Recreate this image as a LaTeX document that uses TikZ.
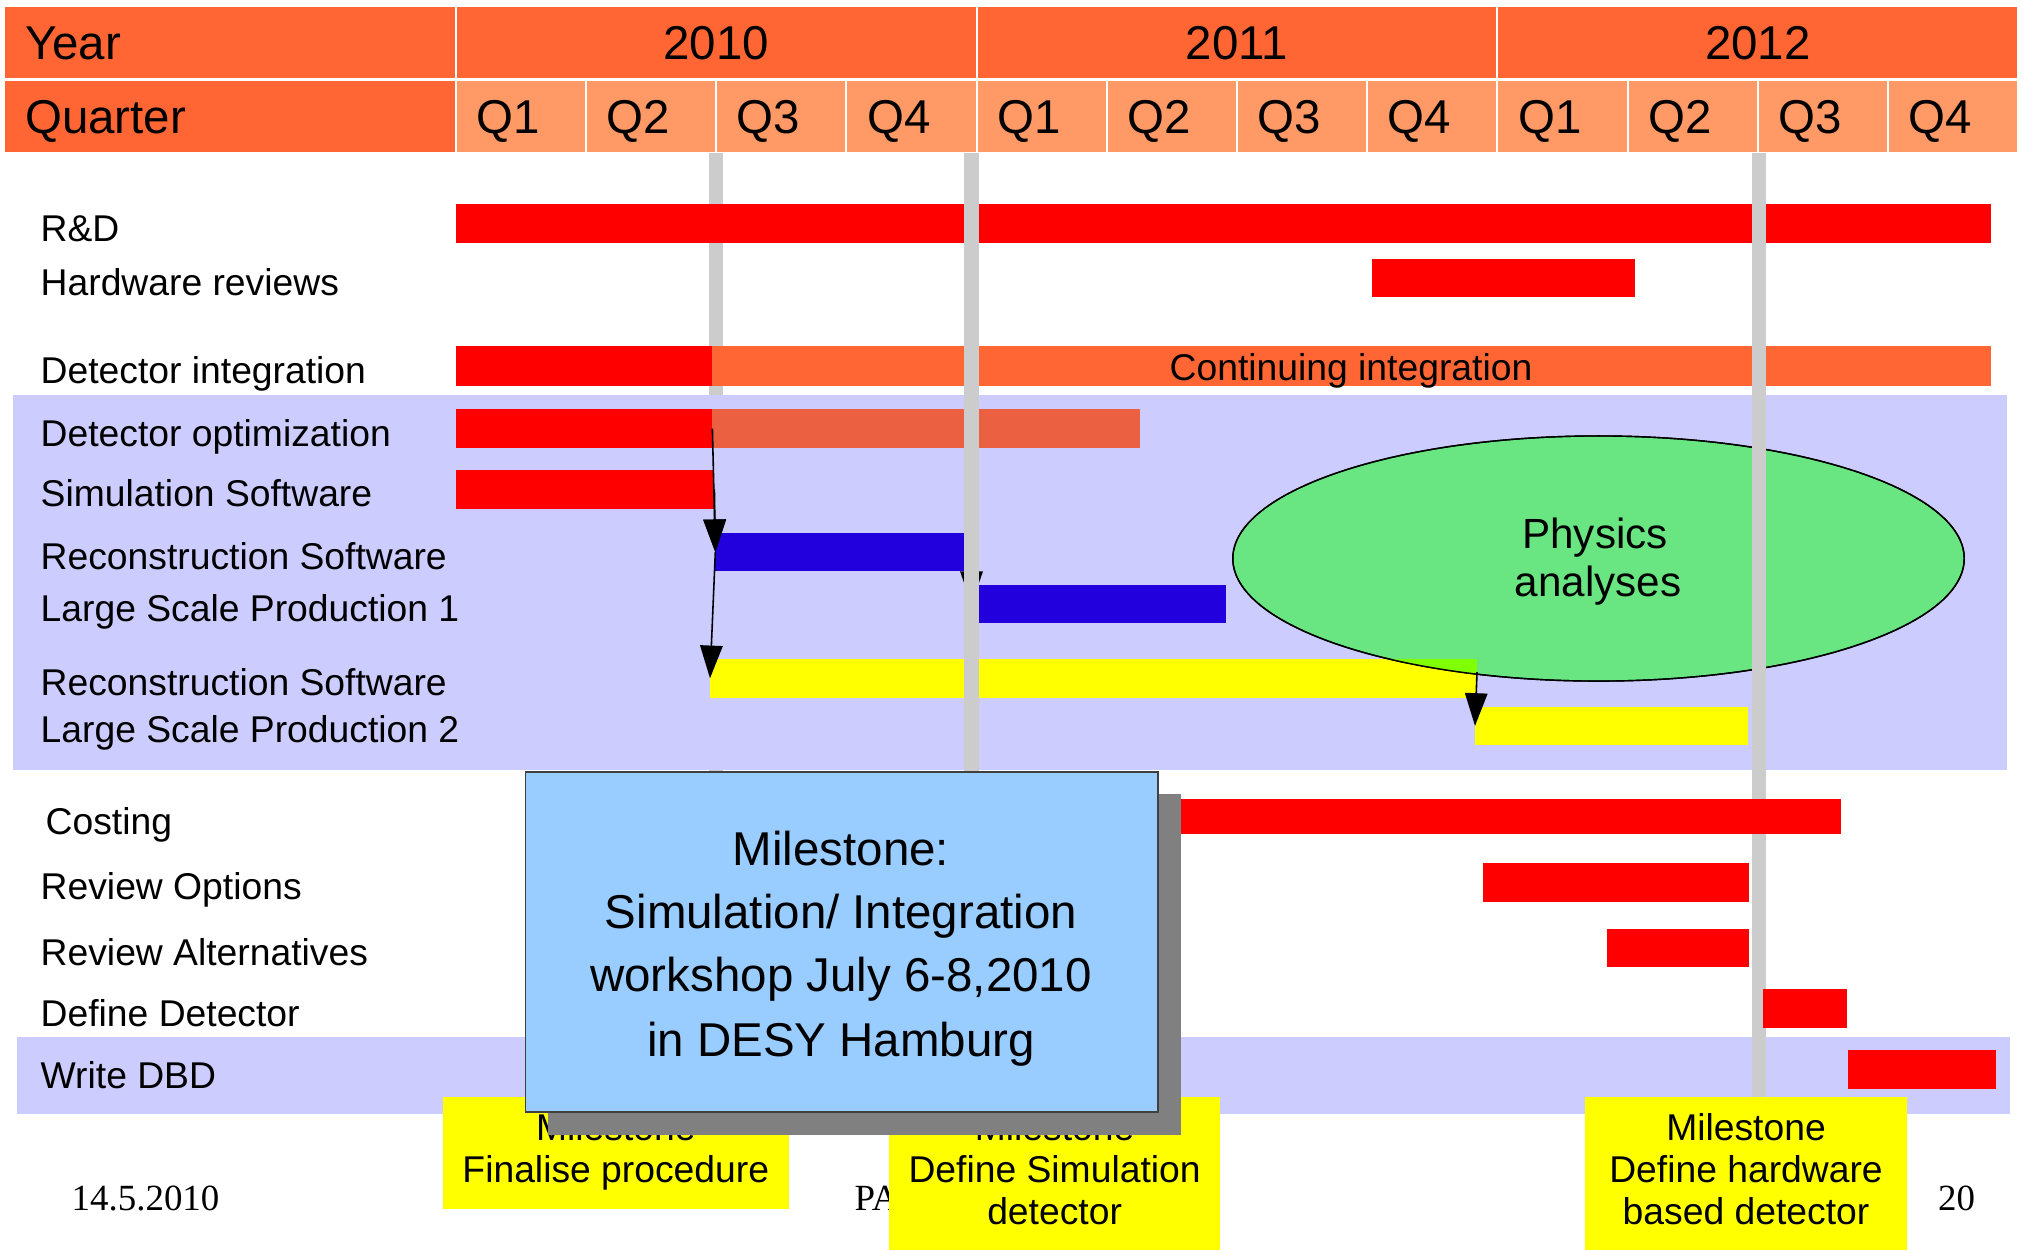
\documentclass[tikz,border=0pt]{standalone}
\usepackage{fontspec}
\setmainfont{Liberation Sans}
\newfontfamily\footfont{Liberation Serif}
\usetikzlibrary{arrows.meta,fit,shapes.geometric}
\definecolor{hdrdark}{HTML}{FF6633}
\definecolor{hdrlight}{HTML}{FF9966}
\definecolor{lav}{HTML}{CCCCFF}
\definecolor{mgrey}{HTML}{CCCCCC}
\definecolor{bred}{HTML}{FF0000}
\definecolor{borange}{HTML}{FF6633}
\definecolor{bcoral}{HTML}{EA6040}
\definecolor{bblue}{HTML}{2200DD}
\definecolor{byellow}{HTML}{FFFF00}
\definecolor{bchart}{HTML}{80FF00}
\definecolor{egreen}{HTML}{69E681}
\definecolor{msblue}{HTML}{99CCFF}
\definecolor{shadowgrey}{HTML}{808080}
\newcommand{\gbar}[4]{\node[ganttbar, fill=#2, fit={#3 #4}] (#1) {};}
\begin{document}
\begin{tikzpicture}[x=0.01cm, y=-0.01cm,
  hdrcell/.style={draw=white, line width=0.6pt},
  hdrtxt/.style={font=\fontsize{13.5pt}{16pt}\selectfont, inner sep=0pt},
  lbl/.style={font=\fontsize{10.6pt}{12.7pt}\selectfont, inner sep=0pt, anchor=base west},
  ganttbar/.style={inner sep=0pt, outer sep=0pt, draw=none, rectangle},
  msline/.style={draw=mgrey, line width=0.145cm},
  conn/.style={-{Triangle[length=9.3pt,width=6.4pt]}, line width=0.45pt, black},
  mstxt/.style={font=\fontsize{13.5pt}{16pt}\selectfont, inner sep=0pt, anchor=base},
  ylwtxt/.style={font=\fontsize{10.6pt}{12.7pt}\selectfont, inner sep=0pt, anchor=base},
  foot/.style={font=\footfont\fontsize{10.5pt}{12pt}\selectfont, inner sep=0pt, anchor=base west}
]
\useasboundingbox (0,0) rectangle (2022,1250);
\fill[white] (0,0) rectangle (2022,1250);

% ---------- header ----------
\path[hdrcell, fill=hdrdark] (4,6) rectangle (455.8,79);
\path[hdrcell, fill=hdrdark] (4,80) rectangle (455.8,153);
\node[hdrtxt, anchor=base west] (tyear) at (24.5,59) {Year};
\node[hdrtxt, anchor=base west] (tquarter) at (24.5,133) {Quarter};
\foreach \i/\yr in {0/2010,1/2011,2/2012} {
  \pgfmathsetmacro\xa{455.8+520.8*\i}
  \pgfmathsetmacro\xb{\xa+520.8}
  \path[hdrcell, fill=hdrdark] (\xa,6) rectangle (\xb,79);
  \node[hdrtxt, anchor=base] (y\yr) at (\xa+260.4,59) {\yr};
}
\foreach \i in {0,...,11} {
  \pgfmathsetmacro\xa{455.8+130.2*\i}
  \pgfmathsetmacro\xb{\xa+130.2}
  \pgfmathtruncatemacro\q{mod(\i,4)+1}
  \path[hdrcell, fill=hdrlight] (\xa,80) rectangle (\xb,153);
  \node[hdrtxt, anchor=base west] (q\i) at (\xa+20,133) {Q\q};
}

% ---------- milestone line 1 (behind) ----------
\draw[msline] (716,153) -- (716,1100);

% ---------- bands ----------
\fill[lav] (13,395) rectangle (2007,770);
\fill[lav] (17.4,1036.7) rectangle (2010,1114);

% ---------- top bars ----------
\gbar{rd}{bred}{(455.8,204)}{(1991,243)}
\gbar{hw}{bred}{(1372,259)}{(1634.5,297)}
\gbar{dia}{bred}{(455.8,346)}{(712.4,386)}
\gbar{dib}{borange}{(712.4,346)}{(1991,386)}
\gbar{doa}{bred}{(455.8,409)}{(712.4,448)}
\gbar{dob}{bcoral}{(712.4,409)}{(1140,448)}
\gbar{ss}{bred}{(455.8,470)}{(714.4,508.7)}
\gbar{rca}{bblue}{(715.3,533.3)}{(964,571)}
\gbar{lpa}{bblue}{(979,585)}{(1226,623.3)}
\gbar{rcb}{byellow}{(710,659)}{(1477,697.5)}
\gbar{lpb}{byellow}{(1475,706.7)}{(1748,745)}
\node[lbl, anchor=base] (contint) at (1351,380) {Continuing integration};

% ---------- ellipse ----------
\node[ellipse, draw=black, line width=0.4pt, fill=egreen, minimum width=7.31cm, minimum height=2.45cm, inner sep=0pt] (phys) at (1598.5,558.5) {};
\begin{scope}
  \clip (1598.5,558.5) ellipse [x radius=3.655cm, y radius=1.225cm];
  \fill[bchart] (710,659) rectangle (1477,697.5);
\end{scope}
\draw[line width=0.4pt] (1598.5,558.5) ellipse [x radius=3.655cm, y radius=1.225cm];
\node[font=\fontsize{12pt}{14pt}\selectfont, inner sep=0pt, anchor=base] (physA) at (1595,548) {Physics};
\node[font=\fontsize{12pt}{14pt}\selectfont, inner sep=0pt, anchor=base] (physB) at (1598,596) {analyses};

% ---------- labels ----------
\node[lbl] (lrd) at (40,241.7) {R\&D};
\node[lbl] (lhw) at (40,295) {Hardware reviews};
\node[lbl] (ldi) at (40,383.3) {Detector integration};
\node[lbl] (ldo) at (40,446) {Detector optimization};
\node[lbl] (lss) at (40,506.7) {Simulation Software};
\node[lbl] (lrca) at (40,569.3) {Reconstruction Software};
\node[lbl] (llpa) at (40,621.7) {Large Scale Production 1};
\node[lbl] (lrcb) at (40,695) {Reconstruction Software};
\node[lbl] (llpb) at (40,742.7) {Large Scale Production 2};
\node[lbl] (lco) at (45,834) {Costing};
\node[lbl] (lro) at (40,899.3) {Review Options};
\node[lbl] (lra) at (40,965) {Review Alternatives};
\node[lbl] (ldd) at (40,1026.7) {Define Detector};
\node[lbl] (lwd) at (40,1088.3) {Write DBD};

% ---------- dependency arrows ----------
\coordinate (a3s) at (971.5,548);
\coordinate (a4s) at (1477,672);
\draw[conn] (doa.east) -- (rca.west);
\draw[conn] (ss.east) -- (rca.west);
\draw[conn] (rca.west) -- (rcb.west);
\draw[conn] (a3s) -- (a3s |- lpa.west);
\draw[conn] (a4s) -- (lpb.west);

% ---------- milestone lines 2,3 ----------
\draw[msline] (971.5,153) -- (971.5,1100);
\draw[msline] (1759,153) -- (1759,1100);

% ---------- lower bars ----------
\gbar{co}{bred}{(1170,799)}{(1841.4,834)}
\gbar{ro}{bred}{(1483,863)}{(1748.6,901.7)}
\gbar{ra}{bred}{(1607.4,928.7)}{(1748.6,967)}
\gbar{dd}{bred}{(1762.8,989.3)}{(1847,1027.7)}
\gbar{wd}{bred}{(1848,1050.3)}{(1996,1088.7)}

% ---------- footer ----------
\node[foot] (fdate) at (71,1210) {14.5.2010};
\node[foot] (fpa) at (854,1210) {PA};
\node[foot] (fpage) at (1937.5,1210) {20};

% ---------- yellow milestone boxes ----------
\gbar{yba}{byellow}{(443,1097)}{(788.5,1209)}
\gbar{ybb}{byellow}{(889,1097)}{(1220.4,1250)}
\gbar{ybc}{byellow}{(1585,1097)}{(1907,1250)}
\node[ylwtxt] (ya1) at (615.8,1140) {Milestone};
\node[ylwtxt] (ya2) at (615.8,1182.5) {Finalise procedure};
\node[ylwtxt] (yb1) at (1054.6,1140) {Milestone};
\node[ylwtxt] (yb2) at (1054.6,1182) {Define Simulation};
\node[ylwtxt] (yb3) at (1054.6,1224) {detector};
\node[ylwtxt] (yc1) at (1746,1140) {Milestone};
\node[ylwtxt] (yc2) at (1746,1182.5) {Define hardware};
\node[ylwtxt] (yc3) at (1746,1224.3) {based detector};

% ---------- workshop milestone box ----------
\fill[shadowgrey] (548,794) rectangle (1180.6,1135);
\node[ganttbar, fill=msblue, draw=black!75, line width=0.5pt, fit={(525.5,772) (1158,1112)}] (msbox) {};
\node[mstxt] (ms1) at (841,865) {Milestone:};
\node[mstxt] (ms2) at (841,928.3) {Simulation/ Integration};
\node[mstxt] (ms3) at (841,991.7) {workshop July 6-8,2010};
\node[mstxt] (ms4) at (841,1056) {in DESY Hamburg};
\end{tikzpicture}
\end{document}
